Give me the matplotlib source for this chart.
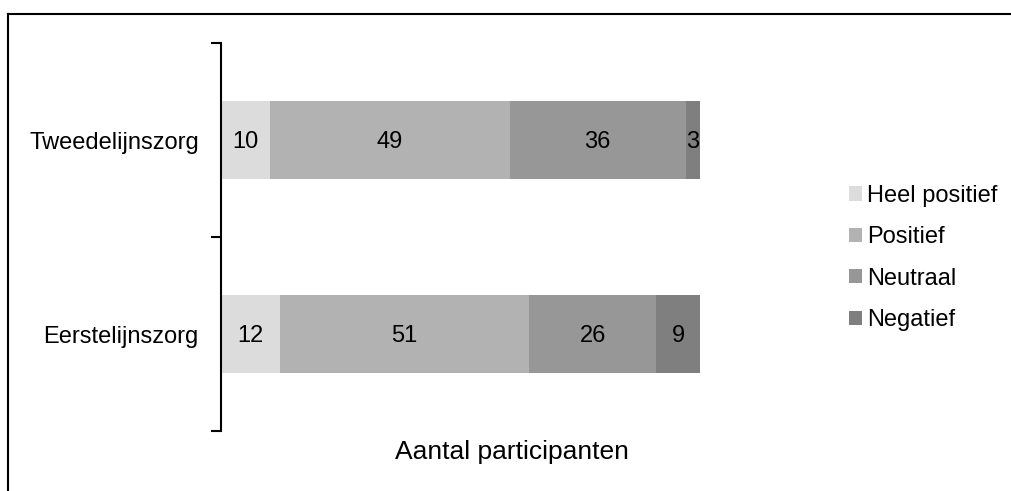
import matplotlib
matplotlib.use("Agg")
import matplotlib.pyplot as plt
import numpy as np

plt.rcParams["font.family"] = ["Liberation Sans", "DejaVu Sans"]

categories = ["Eerstelijnszorg", "Tweedelijnszorg"]
series = ["Heel positief", "Positief", "Neutraal", "Negatief"]
heel_positief = [12, 10]
positief = [51, 49]
neutraal = [26, 36]
negatief = [9, 3]
colors = ["#dcdcdc", "#b2b2b2", "#979797", "#7f7f7f"]

W, H = 1012, 491
fig = plt.figure(figsize=(W / 100, H / 100), dpi=100)

# outer frame (only top and left visible in the reference)
fig.add_artist(plt.Line2D([8 / W, 1.0], [1 - 14 / H, 1 - 14 / H], color="black", lw=1.5,
                          transform=fig.transFigure))
fig.add_artist(plt.Line2D([8 / W, 8 / W], [1 - 14 / H, 0.0], color="black", lw=1.5,
                          transform=fig.transFigure))

ax = fig.add_axes([221 / W, 1 - 431 / H, 489 / W, (431 - 43) / H])

y = np.arange(len(categories))
data = [heel_positief, positief, neutraal, negatief]
left = np.zeros(len(categories))
for name, vals, c in zip(series, data, colors):
    vals = np.array(vals)
    ax.barh(y, vals, left=left, height=0.4, color=c, label=name)
    for yi, l, v in zip(y, left, vals):
        ax.text(l + v / 2, yi - 0.01, str(v), ha="center", va="center", fontsize=17)
    left = left + vals

ax.set_xlim(0, 100)
ax.set_ylim(-0.5, 1.5)
ax.set_yticks([-0.5, 0.5, 1.5])
ax.set_yticklabels([])
ax.set_yticks(y, minor=True)
ax.set_yticklabels(categories, minor=True, fontsize=17)
ax.tick_params(axis="y", which="major", length=7, width=1.5, direction="out")
ax.tick_params(axis="y", which="minor", length=0, pad=16)
ax.set_xticks([])
for s in ["top", "right", "bottom"]:
    ax.spines[s].set_visible(False)
ax.spines["left"].set_linewidth(1.5)

fig.text(512 / W, 1 - 452 / H, "Aantal participanten", ha="center", va="center", fontsize=19)

fig.legend(loc="center left", bbox_to_anchor=(840 / W, 1 - 258 / H), frameon=False,
           fontsize=17, handlelength=0.55, handleheight=0.55, handletextpad=0.2,
           labelspacing=0.82, borderaxespad=0)

fig.savefig("out.png", dpi=100)
